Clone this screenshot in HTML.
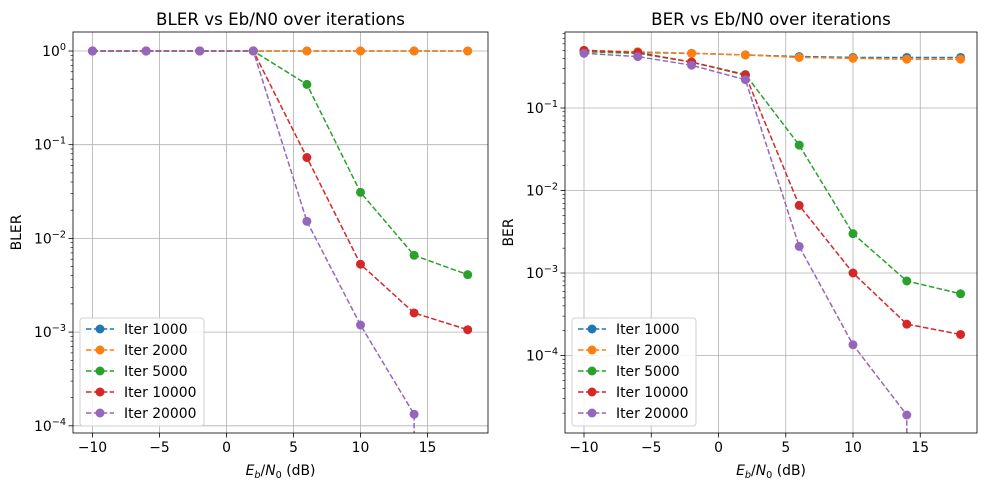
<!DOCTYPE html>
<html><head><meta charset="utf-8"><style>
body{margin:0;background:#fff;}
svg{display:block;font-family:"DejaVu Sans","Liberation Sans",sans-serif;}
</style></head><body>
<svg id="fig" width="989" height="490" viewBox="0 0 989 490"></svg>
<script>
const xValues=[-10,-6,-2,2,6,10,14,18];
const seriesNames=["Iter 1000","Iter 2000","Iter 5000","Iter 10000","Iter 20000"];
const colors=["#1f77b4","#ff7f0e","#2ca02c","#d62728","#9467bd"];
const blerIter1000=[1,1,1,1,1,1,1,1];
const blerIter2000=[1,1,1,1,1,1,1,1];
const blerIter5000=[1,1,1,1,0.44,0.031,0.0066,0.0041];
const blerIter10000=[1,1,1,1,0.073,0.0053,0.0016,0.00106];
const blerIter20000=[1,1,1,1,0.0152,0.00119,0.000133,0];
const berIter1000=[0.49,0.47,0.46,0.44,0.42,0.41,0.41,0.41];
const berIter2000=[0.5,0.48,0.46,0.44,0.41,0.40,0.39,0.39];
const berIter5000=[0.48,0.46,0.36,0.255,0.0355,0.003,0.0008,0.00056];
const berIter10000=[0.5,0.47,0.36,0.25,0.0066,0.001,0.00024,0.00018];
const berIter20000=[0.46,0.42,0.33,0.22,0.0021,0.000135,0.000019,0];
const xTicks=[-10,-5,0,5,10,15];
const blerYTicks=[0,-1,-2,-3,-4];
const berYTicks=[-1,-2,-3,-4];

const NS="http://www.w3.org/2000/svg";
const svg=document.getElementById('fig');
function mk(tag,attrs,parent){const e=document.createElementNS(NS,tag);for(const k in attrs)e.setAttribute(k,attrs[k]);(parent||svg).appendChild(e);return e;}

function panel(cfg){
  const g=mk('g',{});
  
  
  const L=cfg.left,R=cfg.right,T=32,B=433;
  const xs=v=>cfg.x0+(v+10)*cfg.xu;
  const ys=v=>cfg.ydec0-(Math.log10(v)-cfg.dec0)*cfg.yd;
  xTicks.forEach(t=>{const x=xs(t);if(x<L||x>R)return;
    const gl=mk('line',{x1:x,x2:x,y1:T,y2:B,stroke:'#b0b0b0','stroke-width':0.8},g);
    
    mk('line',{x1:x,x2:x,y1:B,y2:B+4.5,stroke:'#000','stroke-width':0.8},g);
    const tx=mk('text',{x:x,y:B+19,'font-size':13.9,'text-anchor':'middle'},g);
    tx.textContent=(t<0?'\u2212'+(-t):t);
    
  });
  cfg.yTicks.forEach(d=>{const y=ys(Math.pow(10,d));
    const gl=mk('line',{x1:L,x2:R,y1:y,y2:y,stroke:'#b0b0b0','stroke-width':0.8},g);
    
    mk('line',{x1:L-4.5,x2:L,y1:y,y2:y,stroke:'#000','stroke-width':0.8},g);
    const tx=mk('text',{x:L-7,y:y+5,'font-size':13.9,'text-anchor':'end'},g);
    
    tx.innerHTML='10<tspan dy="-6" font-size="9.7">'+(d===0?'0':'\u2212'+(-d))+'</tspan>';
  });
  for(let d=cfg.minDec;d<=1;d++)for(let m=2;m<10;m++){const v=m*Math.pow(10,d-1);const y=ys(v);if(y<T||y>B)continue;
    mk('line',{x1:L-2.5,x2:L,y1:y,y2:y,stroke:'#000','stroke-width':0.6},g);}
  const clip=mk('clipPath',{id:'clip'+cfg.name},g);
  mk('rect',{x:L,y:T,width:R-L,height:B-T},clip);
  cfg.series.forEach((vals,i)=>{
    let pts=[];
    for(let j=0;j<vals.length;j++){const v=vals[j];
      if(v>0)pts.push(xs(xValues[j])+','+ys(v));
      else{ if(j>0)pts.push(xs(xValues[j-1])+','+(B+50)); break; }
    }
    const pl=mk('polyline',{points:pts.join(' '),fill:'none',stroke:colors[i],'stroke-width':1.5,'stroke-dasharray':'5.5,2.4','clip-path':'url(#clip'+cfg.name+')'},g);
    
    
    vals.forEach((v,j)=>{if(!(v>0))return;
      const c=mk('circle',{cx:xs(xValues[j]),cy:ys(v),r:4.5,fill:colors[i]},g);
      });
  });
  const fr=mk('rect',{x:L,y:T,width:R-L,height:B-T,fill:'none',stroke:'#000','stroke-width':0.8},g);
  
  const tt=mk('text',{x:(L+R)/2,y:25,'font-size':16.7,'text-anchor':'middle'},g);
  tt.textContent=cfg.title;
  const xl=mk('text',{x:(L+R)/2,y:475,'font-size':13.9,'text-anchor':'middle'},g);
  xl.innerHTML='<tspan font-style="italic">E</tspan><tspan font-style="italic" font-size="9.7" dy="3">b</tspan><tspan dy="-3">/</tspan><tspan font-style="italic">N</tspan><tspan font-size="9.7" dy="3">0</tspan><tspan dy="-3"> (dB)</tspan>';
  
  const yl=mk('text',{x:0,y:0,'font-size':13.9,'text-anchor':'middle',transform:'translate('+cfg.ylx+','+((T+B)/2)+') rotate(-90)'},g);
  yl.textContent=cfg.ylabel;
  const lg=mk('g',{},g);
  mk('rect',{x:L+7,y:318,width:cfg.lw,height:108,rx:3,fill:'#fff','fill-opacity':0.85,stroke:'#d0d0d0'},lg);
  seriesNames.forEach((n,i)=>{const y=329+i*21;
    const e=mk('g',{},lg);
    mk('line',{x1:L+13,x2:L+41,y1:y,y2:y,stroke:colors[i],'stroke-width':1.5,'stroke-dasharray':'5.5,2.4'},e);
    mk('circle',{cx:L+27,cy:y,r:4.5,fill:colors[i]},e);
    const t=mk('text',{x:L+51,y:y+5,'font-size':13.9},e);t.textContent=n;});
}
panel({name:'bler-panel',left:73,right:488,x0:92.5,xu:13.4,ydec0:51,dec0:0,yd:93.7,yTicks:blerYTicks,minDec:-3,
  series:[blerIter1000,blerIter2000,blerIter5000,blerIter10000,blerIter20000],title:'BLER vs Eb/N0 over iterations',ylabel:'BLER',ylx:21,lw:124});
panel({name:'ber-panel',left:565,right:977,x0:584,xu:13.45,ydec0:108,dec0:-1,yd:82.5,yTicks:berYTicks,minDec:-4,
  series:[berIter1000,berIter2000,berIter5000,berIter10000,berIter20000],title:'BER vs Eb/N0 over iterations',ylabel:'BER',ylx:513,lw:124});
</script>
</body></html>
